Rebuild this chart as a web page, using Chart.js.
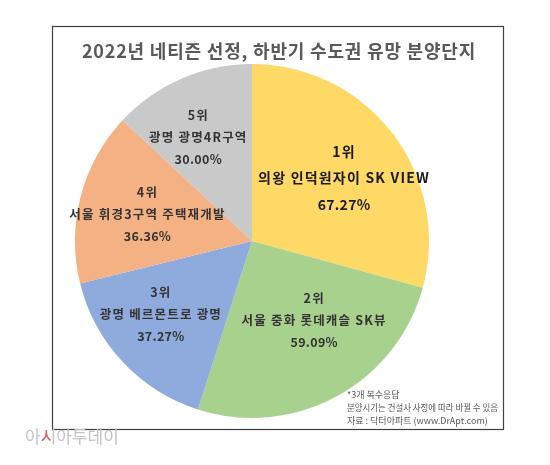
<!DOCTYPE html>
<html>
<head>
<meta charset="utf-8">
<script src="https://cdn.jsdelivr.net/npm/chart.js@4"></script>
<style>
  html, body { margin: 0; padding: 0; background: #fff; }
  #wrap { width: 550px; height: 465px; position: relative; }
</style>
</head>
<body>
<div id="wrap"><canvas id="myChart"></canvas></div>
<script>
const ranks = ['1위', '2위', '3위', '4위', '5위'];
const names = ['의왕 인덕원자이 SK VIEW', '서울 중화 롯데캐슬 SK뷰', '광명 베르몬트로 광명', '서울 휘경3구역 주택재개발', '광명 광명4R구역'];
const shares = [67.27, 59.09, 37.27, 36.36, 30.00];
const sliceColors = ['#FFD966', '#A9D18E', '#8FAADC', '#F4B183', '#C9C9C9'];

const titleText = '2022년 네티즌 선정, 하반기 수도권 유망 분양단지';
const notes = ['*3개 복수응답', '분양시기는 건설사 사정에 따라 바뀔 수 있음', '자료 : 닥터아파트 (www.DrApt.com)'];

const FONT = '"Noto Sans CJK KR", "Noto Sans", sans-serif';

// frame, title, footnote and watermark
const framePlugin = {
  id: 'frame',
  beforeDraw(chart) {
    const ctx = chart.ctx;
    ctx.save();
    ctx.fillStyle = '#fff';
    ctx.fillRect(0, 0, chart.width, chart.height);
    ctx.strokeStyle = '#404040';
    ctx.lineWidth = 1.2;
    ctx.strokeRect(52.5, 26.5, 451, 403);
    ctx.fillStyle = '#595959';
    ctx.font = 'bold 18px ' + FONT;
    ctx.letterSpacing = '0.8px';
    ctx.textAlign = 'center';
    ctx.textBaseline = 'middle';
    ctx.fillText(titleText, 279, 51);
    ctx.restore();
  },
  afterDraw(chart) {
    const ctx = chart.ctx;
    ctx.save();
    ctx.fillStyle = '#595959';
    ctx.font = '9px ' + FONT;
    ctx.textAlign = 'left';
    ctx.textBaseline = 'middle';
    ctx.fillText(notes[0], 347, 395, 60);
    ctx.fillText(notes[1], 347, 408, 151);
    ctx.fillText(notes[2], 347, 421, 141);

    // watermark
    ctx.font = '17px ' + FONT;
    ctx.fillStyle = '#c4c4c4';
    let x = 25;
    const y = 437;
    ctx.fillText('아', x, y);
    x += ctx.measureText('아').width;
    const w = ctx.measureText('시').width;
    ctx.fillText('시', x, y);
    ctx.save();
    ctx.beginPath();
    ctx.rect(x, y - 12, w * 0.62, 24);
    ctx.clip();
    ctx.fillStyle = '#e05a5a';
    ctx.fillText('시', x, y);
    ctx.restore();
    x += w;
    ctx.fillText('아투데이', x, y);
    ctx.restore();
  }
};

// three-line labels inside slices
const sliceLabels = {
  id: 'sliceLabels',
  afterDatasetsDraw(chart, args, opts) {
    const ctx = chart.ctx;
    const meta = chart.getDatasetMeta(0);
    meta.data.forEach((arc, i) => {
      const p = arc.getProps(['x', 'y', 'startAngle', 'endAngle', 'outerRadius'], true);
      const mid = (p.startAngle + p.endAngle) / 2 + opts.shift[i] * Math.PI / 180;
      const r = p.outerRadius * opts.factor[i];
      const cx = p.x + Math.cos(mid) * r;
      const cy = p.y + Math.sin(mid) * r;
      const big = i === 0;
      const size = big ? 14 : 12.5;
      const gap = big ? 26 : 22;
      ctx.save();
      ctx.fillStyle = big ? '#1a1a1a' : '#333';
      ctx.font = 'bold ' + size + 'px ' + FONT;
      ctx.textAlign = 'center';
      ctx.textBaseline = 'middle';
      ctx.letterSpacing = '1.2px';
      ctx.fillText(ranks[i], cx, cy - gap);
      ctx.fillText(names[i], cx, cy);
      ctx.letterSpacing = '0.3px';
      ctx.fillText(shares[i].toFixed(2) + '%', cx, cy + gap + (big ? 1 : 0));
      ctx.restore();
    });
  }
};

const ctx = document.getElementById('myChart').getContext('2d');

const config = {
  type: 'pie',
  data: {
    labels: names,
    datasets: [{
      data: shares,
      backgroundColor: sliceColors,
      borderWidth: 0
    }]
  },
  options: {
    responsive: true,
    maintainAspectRatio: false,
    animation: false,
    layout: {
      padding: { left: 75, right: 121, top: 64, bottom: 47 }
    },
    plugins: {
      legend: { display: false },
      tooltip: { enabled: false },
      sliceLabels: {
        factor: [0.63, 0.57, 0.66, 0.61, 0.66],
        shift: [3, -9.6, 4.3, 0, -3.9]
      }
    }
  },
  plugins: [framePlugin, sliceLabels]
};

new Chart(ctx, config);
</script>
</body>
</html>
